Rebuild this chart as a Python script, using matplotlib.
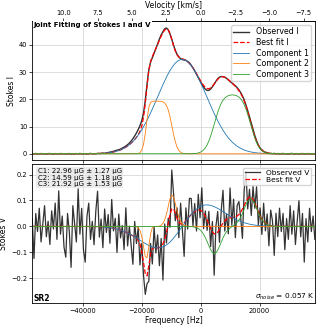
import numpy as np
import matplotlib
matplotlib.use('Agg')
import matplotlib.pyplot as plt

# Kanalraster (Frequenz in Hz)
n_chan = 161
chan_width = 600.0
freq_start = -57200.0
freq = freq_start + chan_width * np.arange(n_chan)

# Umrechnung Frequenz -> Geschwindigkeit (Skala)
rest_freq = 1.3995e9
c_kms = 299792.458

# Komponenten: Peak, Zentrum [Hz], tau/Sigma links und rechts, V-Amplitude
comp_names = ['Component 1', 'Component 2', 'Component 3']
comp_peak = [34.6, 19.3, 21.6]
comp_center = [-6240.0, -14000.0, 10790.0]
comp_tau_l = [0.01, 14.0, 3.0]
comp_tau_r = [0.01, 4.0, 3.0]
comp_sigma_l = [8300.0, 1850.0, 3530.0]
comp_sigma_r = [8300.0, 2300.0, 3530.0]
comp_vpeak = [0.083, 0.121, 0.105]
comp_colors = ['tab:blue', 'tab:orange', 'tab:green']

# Abweichung Beobachtung - Fit
resid_i = [0.08, -0.05, 0.12, -0.10, 0.03, 0.09, -0.07, 0.02, -0.12, 0.06,
           0.10, -0.04, -0.09, 0.07, 0.01, -0.06, 0.11, -0.02, 0.05, -0.08,
           0.04, 0.09, -0.11, 0.02, -0.03, 0.08, -0.06, 0.12, -0.01, -0.07,
           0.06, -0.09, 0.03, 0.10, -0.05, 0.01, -0.08, 0.07, 0.04, -0.02,
           0.09, -0.06, 0.05, 0.12, 0.15, 0.2, 0.25, 0.3, 0.35, 0.3,
           0.3, 0.35, 0.4, 0.45, 0.5, 0.6, 0.8, 1.0, 1.3, 1.6,
           1.9, 2.1, 2.0, 1.6, 1.1, 0.6, 0.2, -0.2, -0.4, -0.3,
           -0.1, 0.2, 0.4, 0.5, 0.4, 0.5, 0.3, 0.0, -0.2, 0.0,
           0.2, 0.3, 0.2, 0.0, -0.2, -0.3, -0.2, 0.0, 0.1, 0.2,
           0.1, 0.0, -0.1, -0.2, -0.3, -0.4, -0.5, -0.6, -0.7, -0.7,
           -0.6, -0.4, -0.2, 0.0, 0.1, 0.2, 0.2, 0.1, 0.0, 0.0,
           0.0, -0.1, -0.1, 0.0, 0.1, 0.2, 0.3, 0.3, 0.3, 0.3,
           0.3, 0.3, 0.4, 0.5, 0.6, 0.7, 0.5, 0.3, 0.1, -0.08,
           0.12, -0.06, 0.04, 0.09, -0.11, 0.03, -0.05, 0.10, -0.02, 0.07,
           -0.09, 0.05, 0.11, -0.04, 0.02, -0.08, 0.06, 0.13, -0.07, 0.01,
           0.08, -0.12, 0.04, 0.10, -0.03, -0.06, 0.09, 0.02, -0.10, 0.05,
           0.03]

resid_v = [0.03, -0.124, 0.05, -0.02, 0.07, -0.06, 0.01, 0.08, -0.04, 0.02,
           -0.07, 0.06, -0.01, 0.09, -0.05, 0.137, -0.03, 0.04, -0.08, -0.119,
           0.05, -0.02, -0.158, 0.08, 0.01, -0.06, 0.145, -0.03, 0.07, -0.09,
           -0.138, 0.04, 0.09, -0.05, 0.02, -0.07, 0.06, 0.137, -0.04, 0.03,
           -0.08, 0.07, -0.02, 0.05, -0.06, 0.11, -0.01, 0.04, -0.09, 0.06,
           -0.03, 0.02, -0.07, 0.094, -0.05, 0.03, -0.04, -0.11, 0.06, -0.02,
           0.05, -0.08, 0.03, -0.05, -0.08, -0.03, -0.06, 0.04, -0.06, 0.08,
           -0.02, 0.05, -0.07, 0.03, -0.14, 0.06, -0.04, 0.02, -0.05, 0.15,
           0.06, -0.03, 0.04, -0.06, 0.08, -0.02, -0.13, 0.05, -0.04, 0.07,
           0.062, -0.05, 0.03, -0.08, 0.06, -0.03, 0.09, -0.06, 0.02, -0.04,
           0.05, -0.07, 0.04, -0.16, 0.03, 0.08, -0.05, 0.06, 0.127, -0.04,
           0.02, -0.06, 0.115, -0.03, 0.07, -0.08, 0.04, 0.05, -0.02, -0.113,
           0.06, 0.116, -0.04, 0.03, -0.07, 0.05, -0.02, 0.08, -0.05, 0.03,
           -0.06, 0.07, -0.03, 0.04, -0.08, 0.06, 0.02, -0.113, 0.05, -0.04,
           0.07, -0.02, 0.05, -0.09, 0.03, -0.05, 0.08, -0.03, 0.06, -0.07,
           0.02, 0.099, -0.04, 0.05, -0.138, 0.03, -0.06, 0.07, -0.02, 0.04,
           -0.05]

b_labels = ['C1: 22.96 \u03bcG \u00b1 1.27 \u03bcG',
            'C2: 14.59 \u03bcG \u00b1 1.18 \u03bcG',
            'C3: 21.92 \u03bcG \u00b1 1.53 \u03bcG']
sigma_noise = 0.057

# Modellprofile
comp_i = []
comp_v = []
for k in range(len(comp_names)):
    left = freq < comp_center[k]
    tau = np.where(left, comp_tau_l[k], comp_tau_r[k])
    sig = np.where(left, comp_sigma_l[k], comp_sigma_r[k])
    g = np.exp(-0.5 * ((freq - comp_center[k]) / sig) ** 2)
    prof = comp_peak[k] * (1 - np.exp(-tau * g)) / (1 - np.exp(-tau))
    d = -np.gradient(prof, freq)
    v = np.where(d < 0, d / np.max(-d), d / np.max(d)) * comp_vpeak[k]
    comp_i.append(prof)
    comp_v.append(v)

fit_i = np.sum(comp_i, axis=0)
fit_v = np.sum(comp_v, axis=0)
obs_i = fit_i + np.array(resid_i)
obs_v = fit_v + np.array(resid_v)

fs_tick = 4.8
fs_lab = 5.5
fs_leg = 5.7
plt.rcParams['font.size'] = fs_tick
plt.rcParams['axes.linewidth'] = 0.6

fig = plt.figure(figsize=(3.19, 3.26), dpi=100)
ax1 = fig.add_axes([0.101, 0.509, 0.886, 0.4265])
ax2 = fig.add_axes([0.101, 0.0696, 0.886, 0.4274], sharex=ax1)

# Stokes I
ax1.plot(freq, obs_i, color='k', lw=1.0, alpha=0.8, label='Observed I')
ax1.plot(freq, fit_i, 'r--', lw=0.9, label='Best fit I')
for prof, name, col in zip(comp_i, comp_names, comp_colors):
    ax1.plot(freq, prof, color=col, lw=0.6, label=name)
ax1.set_ylabel('Stokes I', fontsize=fs_lab, labelpad=2)
ax1.set_ylim(-2.3, 48.7)
ax1.grid(True, color='#d0d0d0', lw=0.5)
ax1.legend(loc='upper right', fontsize=fs_leg, handlelength=2.0,
           borderpad=0.3, labelspacing=0.2, framealpha=0.8)
ax1.tick_params(labelbottom=False, length=2, width=0.5, pad=1.5)
ax1.text(0.005, 0.995, 'Joint Fitting of Stokes I and V', transform=ax1.transAxes,
         ha='left', va='top', fontsize=5.0, fontweight='bold',
         bbox=dict(facecolor='white', edgecolor='none', pad=0.5))

secax = ax1.secondary_xaxis('top', functions=(lambda f: -f / rest_freq * c_kms,
                                              lambda v: -v * rest_freq / c_kms))
secax.set_xlabel('Velocity [km/s]', fontsize=fs_lab, labelpad=1.5)
secax.tick_params(length=2, width=0.5, pad=1.5)

# Stokes V
ax2.plot(freq, obs_v, color='k', lw=0.9, alpha=0.8, label='Observed V')
ax2.plot(freq, fit_v, 'r--', lw=0.9, label='Best fit V')
for prof, col in zip(comp_v, comp_colors):
    ax2.plot(freq, prof, color=col, lw=0.6)
ax2.set_ylabel('Stokes V', fontsize=fs_lab, labelpad=2)
ax2.set_xlabel('Frequency [Hz]', fontsize=fs_lab, labelpad=1.5)
ax2.set_ylim(-0.297, 0.241)
ax2.set_xlim(freq[0], freq[-1])
ax2.grid(True, color='#d0d0d0', lw=0.5)
ax2.legend(loc='upper right', fontsize=5.4, handlelength=2.0,
           borderpad=0.25, labelspacing=0.1, framealpha=0.8)
ax2.tick_params(length=2, width=0.5, pad=1.5)

ax2.text(0.02, 0.97, '\n'.join(b_labels), transform=ax2.transAxes,
         ha='left', va='top', fontsize=5.0, linespacing=1.08,
         bbox=dict(facecolor='#e6e6e6', edgecolor='none', alpha=0.8, pad=1.0))
ax2.text(0.004, 0.004, 'SR2', transform=ax2.transAxes, ha='left', va='bottom',
         fontsize=5.5, fontweight='bold',
         bbox=dict(facecolor='white', edgecolor='none', pad=0.5))
ax2.text(0.998, 0.01, r'$\sigma_{noise}$ = ' + f'{sigma_noise:.3f} K',
         transform=ax2.transAxes, ha='right', va='bottom', fontsize=5.3,
         bbox=dict(facecolor='white', edgecolor='none', alpha=0.7, pad=0.5))

fig.savefig('out.png', dpi=100)
